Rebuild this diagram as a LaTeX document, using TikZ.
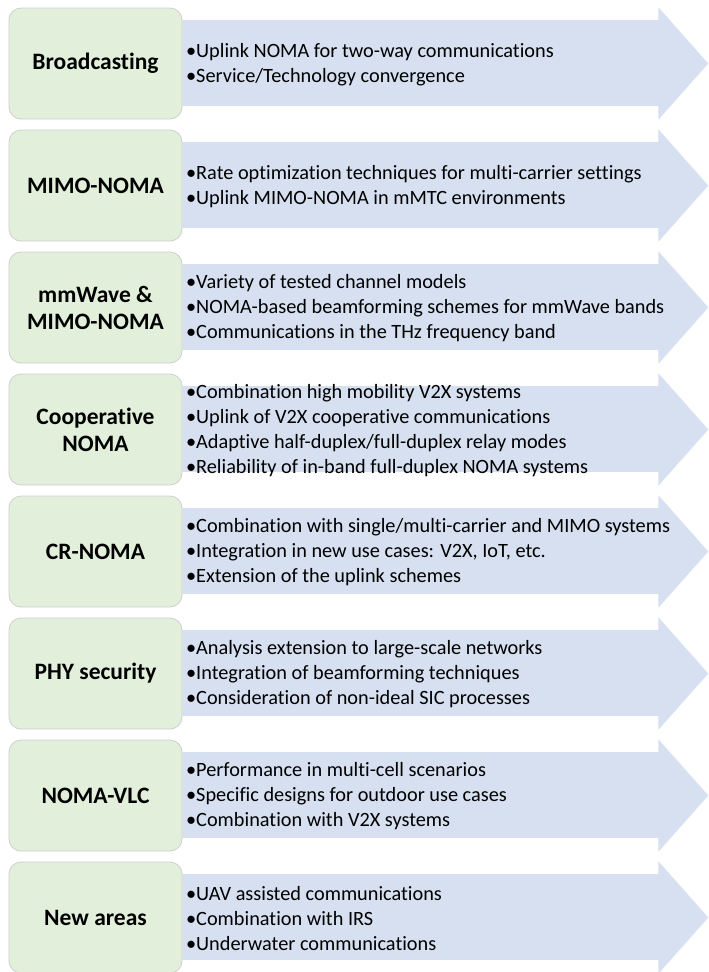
\documentclass[tikz,border=0pt]{standalone}
\usepackage{fontspec}
\setmainfont[Ligatures={NoCommon,NoRequired,NoContextual}]{Carlito}
\definecolor{boxgreen}{HTML}{E2EFDA}
\definecolor{arrowblue}{HTML}{D6E0F0}
\definecolor{boxedge}{HTML}{CFCFCF}
\tikzset{
  titlebox/.style={draw=boxedge, line width=0.8pt, fill=boxgreen, rounded corners=12pt,
    minimum width=173pt, minimum height=111pt, inner sep=2pt, align=center,
    font=\bfseries\fontsize{23.5}{27}\selectfont, text=black},
  arrowshape/.style={fill=arrowblue, draw=white, line width=0.8pt},
  itemtext/.style={anchor=west, inner sep=0pt, align=left,
    font=\fontsize{20.3}{25}\selectfont, text=black}
}
\newcommand{\bul}{\makebox[10pt][l]{•}}
\newcommand{\drawrow}[3]{%
  \pgfmathsetmacro{\rt}{8+122*#1}
  \draw[arrowshape] (182,\rt+11.5) -- (658,\rt+11.5) -- (658,\rt-2) -- (709,\rt+55.5)
     -- (658,\rt+113) -- (658,\rt+98.5) -- (182,\rt+98.5) -- cycle;
  \node[titlebox] (box#1) at (95.5,\rt+55.5) {#2};
  \node[itemtext] (txt#1) at (186,\rt+56.5) {#3};
}
\begin{document}
\begin{tikzpicture}[x=1pt,y=-1pt]
\useasboundingbox (0,0) rectangle (709,972);
\fill[white] (0,0) rectangle (709,972);
\drawrow{0}{Broadcasting}{\bul Uplink NOMA for two-way communications\\\bul Service/Technology convergence}
\drawrow{1}{MIMO-NOMA}{\bul Rate optimization techniques for multi-carrier settings\\\bul Uplink MIMO-NOMA in mMTC environments}
\drawrow{2}{mmWave \&\\MIMO-NOMA}{\bul Variety of tested channel models\\\bul NOMA-based beamforming schemes for mmWave bands\\\bul Communications in the THz frequency band}
\drawrow{3}{Cooperative\\NOMA}{\bul Combination high mobility V2X systems\\\bul Uplink of V2X cooperative communications\\\bul Adaptive half-duplex/full-duplex relay modes\\\bul Reliability of in-band full-duplex NOMA systems}
\drawrow{4}{CR-NOMA}{\bul Combination with single/multi-carrier and MIMO systems\\\bul Integration in new use cases: V2X, IoT, etc.\\\bul Extension of the uplink schemes}
\drawrow{5}{PHY security}{\bul Analysis extension to large-scale networks\\\bul Integration of beamforming techniques\\\bul Consideration of non-ideal SIC processes}
\drawrow{6}{NOMA-VLC}{\bul Performance in multi-cell scenarios\\\bul Specific designs for outdoor use cases\\\bul Combination with V2X systems}
\drawrow{7}{New areas}{\bul UAV assisted communications\\\bul Combination with IRS\\\bul Underwater communications}
\end{tikzpicture}
\end{document}
